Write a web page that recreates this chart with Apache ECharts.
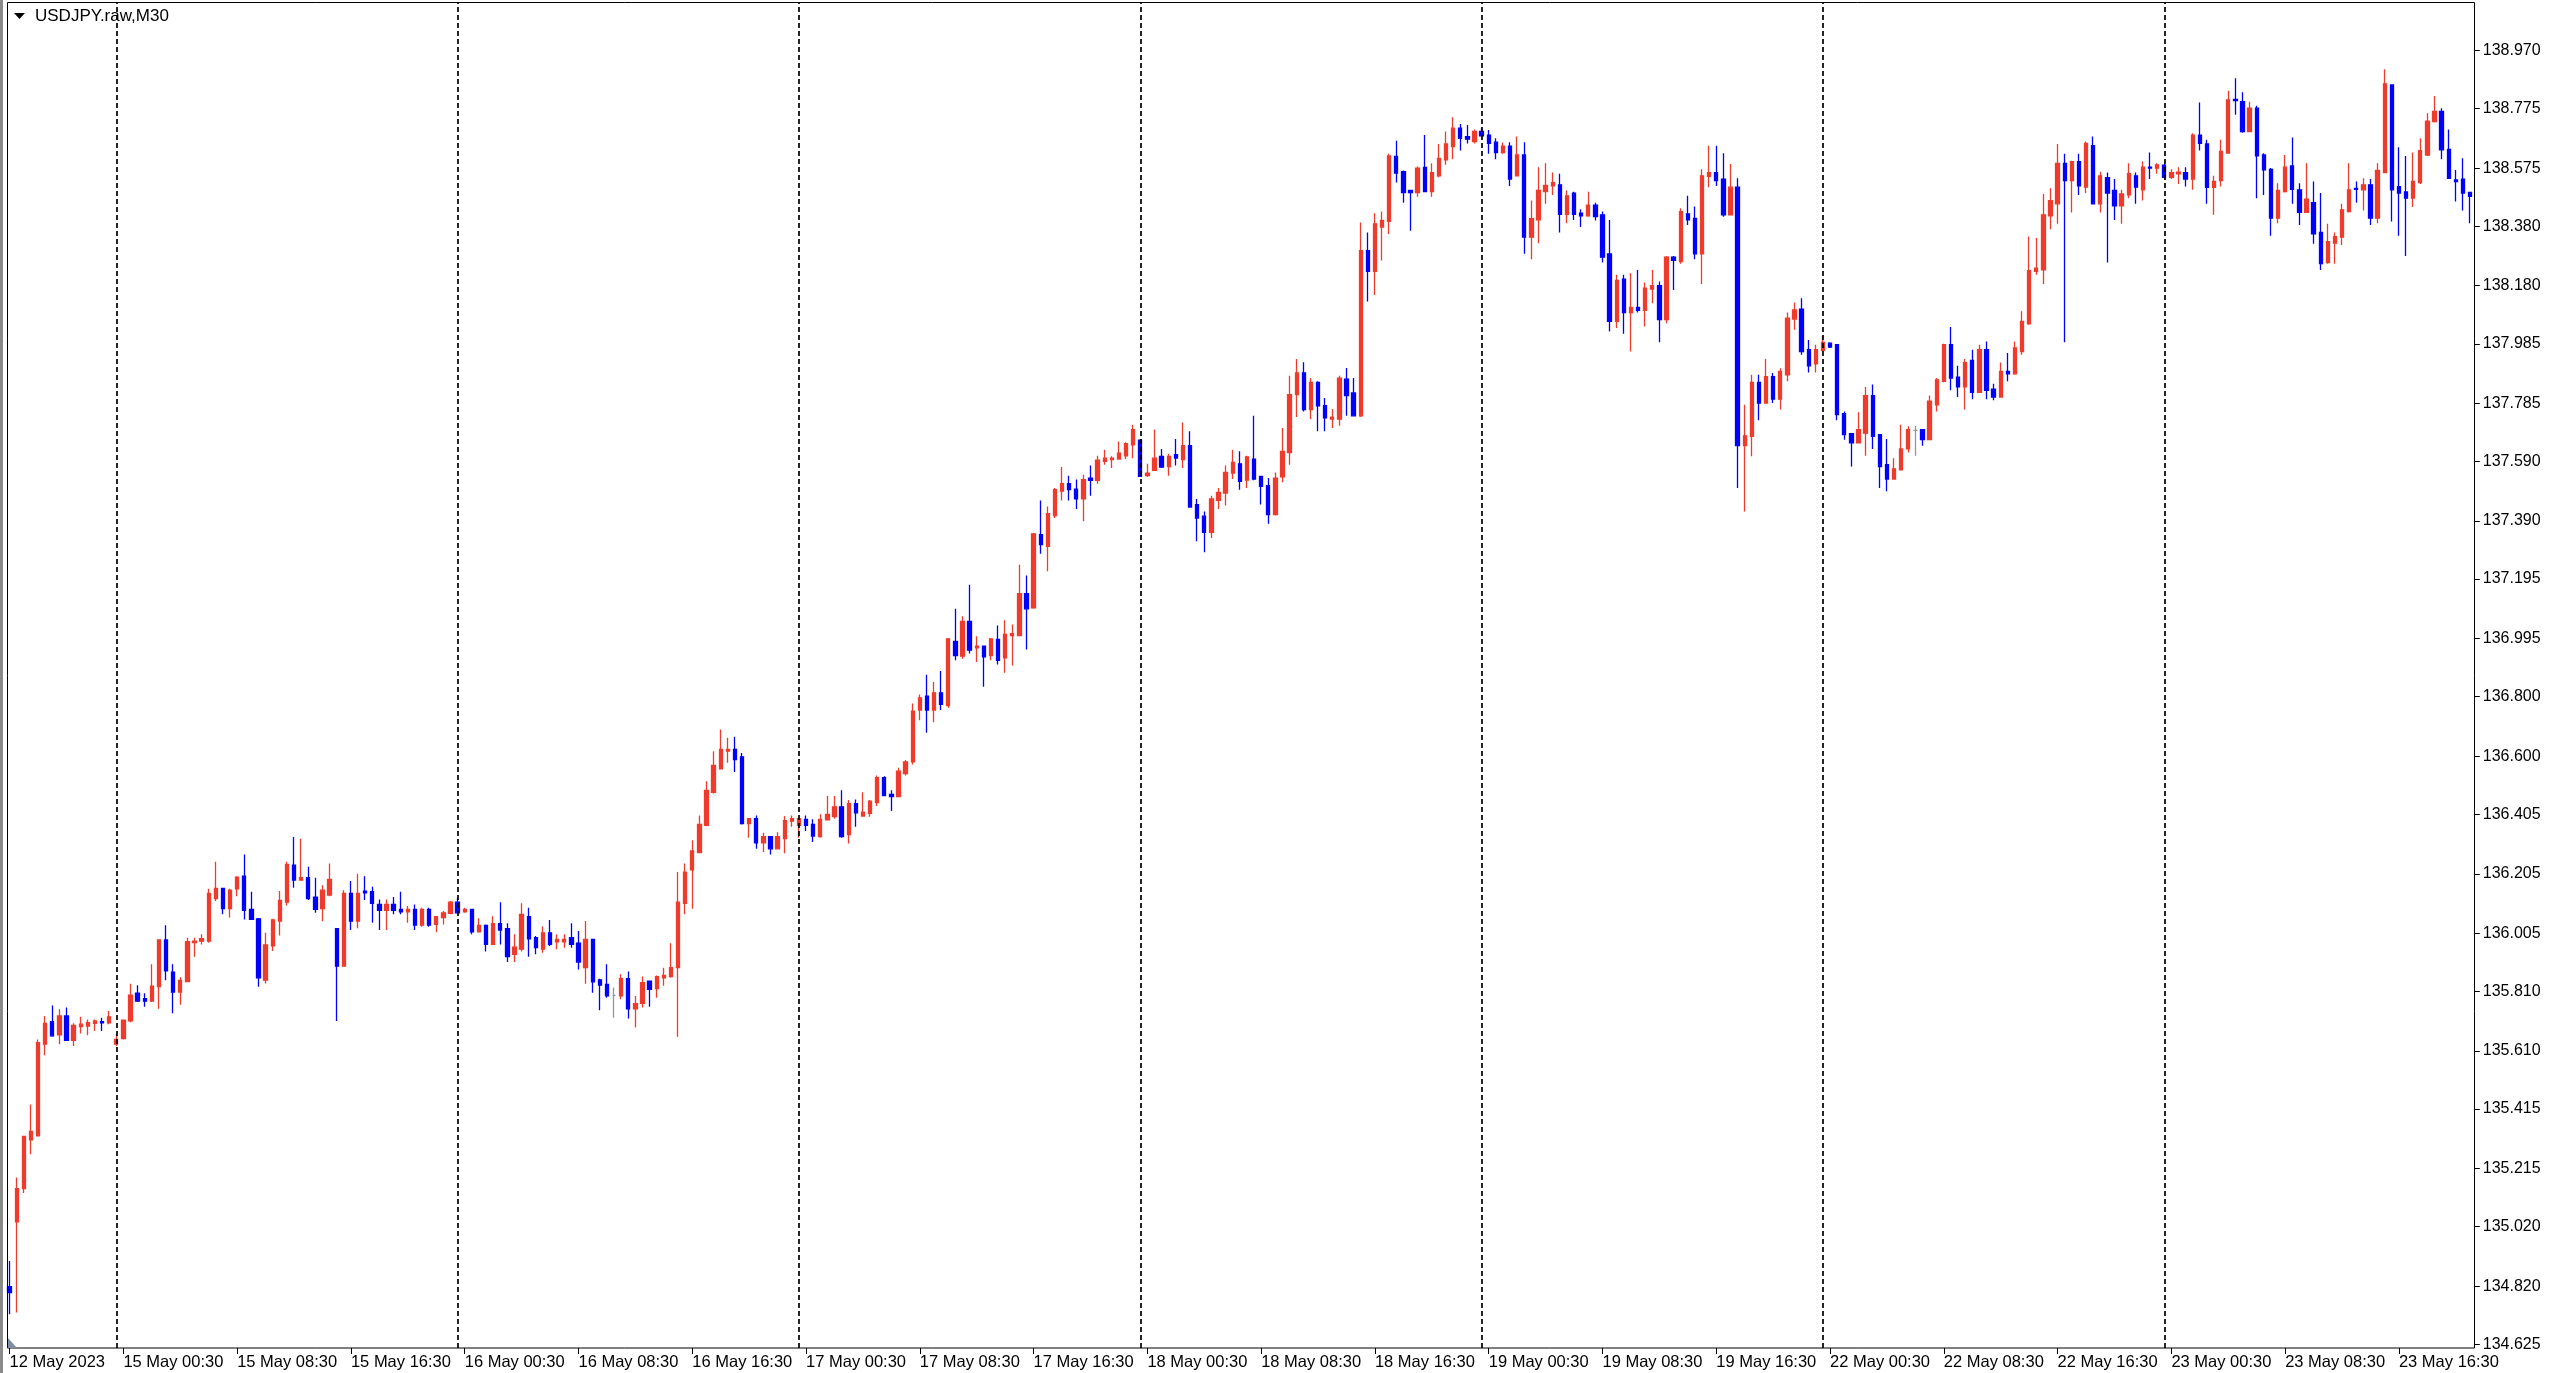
<!DOCTYPE html>
<html>
<head>
<meta charset="utf-8">
<script src="https://cdn.jsdelivr.net/npm/echarts@6/dist/echarts.min.js"></script>
<style>
html,body{margin:0;padding:0;background:#fff;}
#chart{width:2560px;height:1373px;}
</style>
</head>
<body>
<div id="chart"></div>
<script>
// ---- data: bars as [open, high, low, close] ----
const may12 = [
[134.819,134.905,134.726,134.799],[135.036,135.185,134.732,135.148],[135.148,135.325,135.133,135.323],
[135.312,135.430,135.263,135.340],[135.325,135.649,135.323,135.638],[135.633,135.728,135.596,135.703],
[135.709,135.763,135.658,135.661],[135.664,135.750,135.633,135.728],[135.728,135.756,135.644,135.646],
[135.646,135.703,135.627,135.696],[135.692,135.725,135.669,135.700],[135.694,135.716,135.663,135.705],
[135.703,135.716,135.677,135.711],[135.709,135.722,135.677,135.705],[135.705,135.744,135.700,135.725]
];
const may15 = [
[135.633,135.666,135.627,135.649],[135.652,135.716,135.649,135.714],[135.711,135.836,135.707,135.798],
[135.804,135.831,135.775,135.778],[135.786,135.804,135.759,135.778],[135.778,135.901,135.775,135.828],
[135.826,135.985,135.752,135.983],[135.983,136.032,135.848,135.879],[135.875,135.901,135.737,135.808],
[135.808,135.858,135.765,135.847],[135.843,135.990,135.842,135.977],[135.974,135.990,135.927,135.979],
[135.979,136.002,135.968,135.987],[135.979,136.155,135.974,136.139],[136.122,136.246,136.114,136.156],
[136.156,136.158,136.069,136.088],[136.088,136.155,136.058,136.150],[136.155,136.197,136.130,136.194],
[136.197,136.270,136.052,136.082],[136.086,136.145,136.050,136.052],[136.054,136.057,135.826,135.856],
[135.848,136.007,135.837,135.966],[135.963,136.054,135.946,136.050],[136.046,136.147,135.998,136.116],
[136.110,136.246,136.099,136.237],[136.234,136.329,136.158,136.184],[136.184,136.323,136.184,136.192],
[136.192,136.229,136.117,136.122],[136.127,136.192,136.074,136.086],[136.088,136.167,136.046,136.150],
[136.134,136.240,136.130,136.186],[136.021,136.021,135.711,135.895],[135.895,136.150,135.893,136.139],
[136.139,136.181,136.016,136.046],[136.046,136.205,136.022,136.139],[136.147,136.197,136.117,136.141],
[136.145,136.162,136.041,136.106],[136.102,136.119,136.016,136.082],[136.082,136.119,136.016,136.102],
[136.102,136.127,136.069,136.082],[136.086,136.145,136.069,136.077],[136.077,136.097,136.041,136.086],
[136.086,136.102,136.016,136.033],[136.033,136.091,136.027,136.086],[136.086,136.091,136.027,136.033],
[136.035,136.063,136.009,136.061],[136.058,136.080,136.035,136.074],[136.072,136.114,136.069,136.110]
];
const may16 = [
[136.110,136.125,136.072,136.074],[136.077,136.091,136.074,136.086],[136.086,136.088,136.002,136.010],
[136.010,136.056,136.008,136.032],[136.032,136.035,135.944,135.968],[135.968,136.063,135.966,136.038],
[136.038,136.110,135.968,136.016],[136.021,136.039,135.909,135.927],[135.935,136.002,135.909,135.959],
[135.952,136.106,135.944,136.069],[136.061,136.091,135.927,135.987],[135.991,135.996,135.935,135.957],
[135.952,136.028,135.940,136.007],[136.007,136.050,135.963,135.968],[135.977,136.002,135.952,135.985],
[135.977,136.002,135.957,135.985],[135.991,136.039,135.957,135.968],[135.972,136.013,135.884,135.909],
[135.890,136.047,135.836,135.985],[135.985,135.985,135.806,135.842],[135.849,135.853,135.747,135.831],
[135.834,135.901,135.789,135.795],[135.797,135.823,135.722,135.797],[135.795,135.868,135.784,135.853],
[135.853,135.877,135.719,135.752],[135.752,135.795,135.689,135.769],[135.770,135.860,135.756,135.840],
[135.845,135.847,135.759,135.817],[135.820,135.864,135.789,135.860],[135.856,135.890,135.829,135.864],
[135.860,135.972,135.856,135.890],[135.890,136.211,135.658,136.110],[136.106,136.240,136.069,136.211],
[136.218,136.318,136.088,136.282],[136.276,136.401,136.274,136.371],[136.368,136.516,136.365,136.485],
[136.479,136.617,136.475,136.569],[136.558,136.690,136.556,136.623],[136.617,136.662,136.578,136.623],
[136.623,136.665,136.547,136.589],[136.598,136.611,136.371,136.374],[136.374,136.392,136.326,136.390],
[136.390,136.401,136.289,136.309],[136.309,136.343,136.278,136.330],[136.330,136.332,136.270,136.289],
[136.289,136.345,136.289,136.330],[136.323,136.399,136.274,136.384],[136.382,136.401,136.363,136.390]
];
const may17 = [
[136.368,136.393,136.326,136.390],[136.388,136.401,136.349,136.368],[136.371,136.388,136.312,136.332],
[136.330,136.405,136.326,136.388],[136.386,136.466,136.386,136.405],[136.397,136.466,136.390,136.430],
[136.430,136.486,136.326,136.330],[136.337,136.453,136.307,136.441],[136.441,136.455,136.363,136.410],
[136.399,136.479,136.399,136.412],[136.408,136.453,136.397,136.449],[136.444,136.535,136.433,136.528],
[136.528,136.533,136.466,136.468],[136.472,136.486,136.416,136.464],[136.464,136.561,136.464,136.550],
[136.542,136.587,136.535,136.581],[136.581,136.777,136.572,136.751],[136.755,136.807,136.721,136.796],
[136.802,136.874,136.679,136.755],[136.755,136.849,136.714,136.813],[136.813,136.886,136.755,136.774],
[136.770,136.997,136.763,136.994],[136.986,137.095,136.922,136.938],[136.936,137.070,136.927,137.053],
[137.053,137.176,136.945,136.956],[136.964,137.003,136.916,136.970],[136.970,136.972,136.833,136.934],
[136.938,136.997,136.922,136.994],[136.992,137.039,136.908,136.922],[136.930,137.057,136.880,137.009],
[137.005,137.042,136.905,137.012],[137.005,137.243,137.003,137.146],[137.146,137.207,136.958,137.095],
[137.098,137.350,137.095,137.347],[137.344,137.459,137.280,137.311],[137.305,137.439,137.221,137.415],
[137.408,137.501,137.400,137.495],[137.490,137.571,137.459,137.515],[137.515,137.542,137.459,137.495],
[137.497,137.529,137.430,137.464],[137.464,137.545,137.389,137.529],[137.534,137.576,137.475,137.526],
[137.526,137.609,137.515,137.594],[137.590,137.629,137.579,137.601],[137.596,137.607,137.568,137.601],
[137.598,137.657,137.596,137.618],[137.609,137.654,137.598,137.650],[137.646,137.713,137.601,137.697]
];
const may18 = [
[137.661,137.665,137.538,137.540],[137.542,137.582,137.538,137.551],[137.560,137.697,137.560,137.601],
[137.607,137.632,137.568,137.571],[137.573,137.616,137.542,137.607],[137.613,137.665,137.576,137.601],
[137.596,137.721,137.568,137.643],[137.643,137.691,137.434,137.437],[137.445,137.464,137.322,137.400],
[137.406,137.422,137.285,137.352],[137.352,137.475,137.333,137.464],[137.459,137.501,137.430,137.486],
[137.484,137.576,137.442,137.553],[137.551,137.629,137.531,137.587],[137.582,137.624,137.495,137.523],
[137.527,137.609,137.501,137.605],[137.598,137.743,137.527,137.531],[137.540,137.542,137.445,137.506],
[137.509,137.534,137.381,137.411],[137.411,137.553,137.408,137.534],[137.538,137.702,137.520,137.624],
[137.620,137.878,137.579,137.814],[137.814,137.934,137.739,137.887],[137.887,137.923,137.758,137.764],
[137.764,137.870,137.732,137.855],[137.855,137.859,137.691,137.777],[137.777,137.803,137.691,137.736],
[137.732,137.766,137.702,137.739],[137.732,137.878,137.710,137.870],[137.866,137.904,137.743,137.811],
[137.820,137.870,137.741,137.743],[137.743,138.392,137.739,138.298],[138.298,138.359,138.127,138.228],
[138.228,138.423,138.149,138.388],[138.377,138.429,138.265,138.399],[138.396,138.623,138.354,138.616],
[138.614,138.667,138.527,138.558],[138.563,138.567,138.459,138.493],[138.500,138.502,138.365,138.493],
[138.493,138.580,138.479,138.575],[138.577,138.686,138.496,138.496],[138.496,138.591,138.479,138.560],
[138.549,138.656,138.544,138.608],[138.603,138.698,138.586,138.656],[138.647,138.746,138.605,138.709],
[138.709,138.723,138.634,138.675],[138.681,138.720,138.658,138.672],[138.664,138.705,138.658,138.698]
];
const may19 = [
[138.698,138.709,138.681,138.683],[138.686,138.703,138.623,138.658],[138.662,138.675,138.605,138.627],
[138.627,138.661,138.623,138.649],[138.649,138.662,138.515,138.538],[138.549,138.681,138.549,138.619],
[138.619,138.662,138.287,138.343],[138.343,138.466,138.269,138.405],[138.401,138.578,138.323,138.500],
[138.496,138.591,138.455,138.517],[138.515,138.560,138.485,138.526],[138.519,138.556,138.359,138.420],
[138.420,138.500,138.390,138.482],[138.491,138.496,138.401,138.420],[138.424,138.437,138.377,138.415],
[138.415,138.496,138.412,138.451],[138.451,138.459,138.399,138.412],[138.418,138.429,138.258,138.276],
[138.287,138.401,138.026,138.060],[138.060,138.217,138.038,138.198],[138.202,138.217,138.019,138.090],
[138.090,138.222,137.959,138.107],[138.107,138.233,138.090,138.097],[138.097,138.191,138.043,138.172],
[138.169,138.233,138.121,138.180],[138.180,138.194,137.990,138.066],[138.066,138.280,138.054,138.276],
[138.276,138.280,138.166,138.265],[138.261,138.440,138.254,138.429],[138.421,138.482,138.384,138.401],
[138.406,138.446,138.269,138.287],[138.287,138.571,138.186,138.549],[138.547,138.650,138.511,138.560],
[138.560,138.650,138.515,138.533],[138.538,138.625,138.412,138.418],[138.418,138.589,138.418,138.511],
[138.511,138.541,137.501,137.643],[137.643,137.780,137.422,137.676],[137.674,137.881,137.607,137.855],
[137.855,137.881,137.728,137.786],[137.786,137.934,137.786,137.875],[137.875,137.887,137.786,137.799],
[137.799,137.903,137.764,137.892],[137.881,138.090,137.859,138.071],[138.068,138.124,138.032,138.099],
[138.101,138.138,137.948,137.959],[137.965,137.998,137.889,137.911],[137.918,137.982,137.889,137.965]
];
const may22 = [
[137.963,138.012,137.959,137.990],[137.987,137.990,137.971,137.974],[137.982,137.984,137.728,137.747],
[137.750,137.758,137.663,137.680],[137.683,137.685,137.573,137.652],[137.652,137.755,137.650,137.697],
[137.685,137.840,137.609,137.811],[137.811,137.848,137.632,137.674],[137.680,137.682,137.501,137.573],
[137.579,137.665,137.490,137.531],[137.531,137.601,137.529,137.565],[137.562,137.713,137.560,137.632],
[137.632,137.708,137.620,137.697],[137.694,137.710,137.609,137.694],[137.697,137.699,137.643,137.663],
[137.663,137.811,137.661,137.792],[137.780,137.870,137.758,137.864],[137.859,137.985,137.856,137.982],
[137.982,138.041,137.829,137.870],[137.873,137.911,137.806,137.840],[137.840,137.934,137.764,137.922],
[137.929,137.965,137.799,137.822],[137.822,137.982,137.820,137.965],[137.965,137.993,137.799,137.829],
[137.833,137.851,137.795,137.806],[137.806,137.922,137.804,137.892],[137.892,137.954,137.859,137.884],
[137.884,137.993,137.881,137.971],[137.959,138.094,137.948,138.060],[138.052,138.345,138.049,138.231],
[138.228,138.340,138.217,138.239],[138.233,138.488,138.186,138.418],[138.415,138.507,138.370,138.466],
[138.455,138.656,138.388,138.591],[138.591,138.623,137.990,138.533],[138.533,138.600,138.426,138.597],
[138.597,138.623,138.485,138.515],[138.511,138.664,138.491,138.658],[138.650,138.681,138.455,138.455],
[138.455,138.563,138.426,138.549],[138.543,138.560,138.258,138.491],[138.500,138.538,138.401,138.448],
[138.448,138.502,138.388,138.488],[138.485,138.591,138.474,138.556],[138.549,138.560,138.455,138.511],
[138.502,138.597,138.466,138.578],[138.578,138.627,138.538,138.575],[138.575,138.591,138.556,138.586]
];
const may23 = [
[138.585,138.589,138.541,138.544],[138.544,138.571,138.538,138.560],[138.556,138.578,138.522,138.561],
[138.560,138.578,138.513,138.538],[138.538,138.692,138.502,138.686],[138.686,138.795,138.634,138.658],
[138.656,138.670,138.455,138.510],[138.510,138.549,138.418,138.530],[138.533,138.670,138.513,138.631],
[138.625,138.835,138.623,138.804],[138.806,138.877,138.754,138.802],[138.798,138.830,138.694,138.698],
[138.698,138.798,138.698,138.776],[138.776,138.784,138.474,138.616],[138.619,138.625,138.485,138.569],
[138.571,138.575,138.348,138.407],[138.407,138.524,138.390,138.500],[138.496,138.619,138.493,138.578],
[138.582,138.678,138.455,138.504],[138.502,138.524,138.384,138.426],[138.426,138.591,138.426,138.471],
[138.459,138.530,138.321,138.354],[138.359,138.491,138.233,138.254],[138.258,138.388,138.254,138.328],
[138.323,138.359,138.254,138.345],[138.343,138.455,138.317,138.435],[138.429,138.591,138.426,138.502],
[138.507,138.530,138.459,138.504],[138.502,138.541,138.433,138.519],[138.519,138.538,138.384,138.407],
[138.407,138.591,138.390,138.567],[138.560,138.907,138.558,138.858],[138.854,138.854,138.396,138.502],
[138.513,138.645,138.348,138.491],[138.495,138.616,138.280,138.474],[138.474,138.627,138.444,138.530],
[138.526,138.675,138.522,138.634],[138.619,138.759,138.616,138.733],[138.731,138.817,138.728,138.765],
[138.765,138.776,138.605,138.636],[138.638,138.705,138.538,138.541],[138.535,138.569,138.463,138.530],
[138.538,138.608,138.433,138.491],[138.493,138.495,138.390,138.480]
];

const dayNames = ['12 May','15 May','16 May','17 May','18 May','19 May','22 May','23 May'];
const dayFirstSlot = [33,0,0,0,0,0,0,0]; // half-hour slot of the first bar of each day
const dayBars = [may12, may15, may16, may17, may18, may19, may22, may23];
const firstLabel = '12 May 2023';
const yTicks = [134.625,134.820,135.020,135.215,135.415,135.610,135.810,136.005,136.205,136.405,
  136.600,136.800,136.995,137.195,137.390,137.590,137.785,137.985,138.180,138.380,138.575,138.775,138.970];
const title = 'USDJPY.raw,M30';

// ---- build categories / series ----
const categories = [];
const ohlc = [];
const daySeparators = [];
function pad(n){ return (n < 10 ? '0' : '') + n; }
dayBars.forEach(function(bars, d){
  bars.forEach(function(b, i){
    const slot = dayFirstSlot[d] + i;
    const name = dayNames[d] + ' ' + pad(Math.floor(slot/2)) + ':' + (slot % 2 ? '30' : '00');
    if (d > 0 && i === 0) daySeparators.push(name);
    categories.push(name);
    ohlc.push([b[0], b[3], b[2], b[1]]); // echarts: open, close, low, high
  });
});

const RED = '#EF3B2C', BLUE = '#0000FF', GREY = '#8C98A6';
const FONT = 'Liberation Sans';
const showIdx = function(index){ return index % 16 === 0; };

const chart = echarts.init(document.getElementById('chart'), null, {renderer:'canvas'});
chart.setOption({
  animation: false,
  backgroundColor: '#ffffff',
  grid: {left: 6.05, right: 86.4, top: 2, bottom: 25},
  xAxis: {
    type: 'category',
    data: categories,
    boundaryGap: true,
    axisLine: {show: false},
    axisTick: {show: true, alignWithLabel: true, interval: showIdx, length: 6, lineStyle: {color: '#000', width: 1}},
    axisLabel: {
      show: true, interval: showIdx, align: 'left', verticalAlign: 'top', margin: 6,
      fontFamily: FONT, fontSize: 16.5, color: '#000',
      formatter: function(v, idx){ return idx === 0 ? firstLabel : v; }
    },
    splitLine: {show: false}
  },
  yAxis: {
    type: 'value',
    position: 'right',
    min: 134.6127,
    max: 139.1328,
    offset: 1.2,
    axisLine: {show: false},
    axisTick: {show: true, inside: false, length: 5, customValues: yTicks, lineStyle: {color: '#000', width: 1}},
    axisLabel: {
      show: true, customValues: yTicks, margin: 8, fontFamily: FONT, fontSize: 16, color: '#000',
      formatter: function(v){ return Number(v).toFixed(3); }
    },
    splitLine: {show: false}
  },
  series: [{
    type: 'candlestick',
    data: ohlc,
    barWidth: 3.8,
    itemStyle: {
      color: RED, color0: BLUE, borderColor: RED, borderColor0: BLUE,
      borderColorDoji: GREY, borderWidth: 1.3
    },
    markLine: {
      silent: true,
      symbol: ['none','none'],
      label: {show: false},
      lineStyle: {color: '#000', width: 1.7, type: [5, 3], opacity: 1},
      data: daySeparators.map(function(n){ return {xAxis: n}; })
    }
  }],
  graphic: [
    {type:'rect', shape:{x:0, y:0, width:3, height:1373}, style:{fill:'#8a8a8a'}, silent:true},
    {type:'rect', shape:{x:7.5, y:2.5, width:2467, height:1345.5}, style:{fill:'none', stroke:'#000', lineWidth:1}, silent:true, z:100},
    {type:'polygon', shape:{points:[[14,13],[25,13],[19.5,19]]}, style:{fill:'#000'}, silent:true, z:100},
    {type:'text', left:35, top:8, style:{text: title, fontFamily: FONT, fontSize: 17, fill:'#000'}, silent:true, z:100},
    {type:'polygon', shape:{points:[[8,1338],[8,1348],[17,1348]]}, style:{fill:'#7f8ea3'}, silent:true, z:100}
  ]
});
</script>
</body>
</html>
